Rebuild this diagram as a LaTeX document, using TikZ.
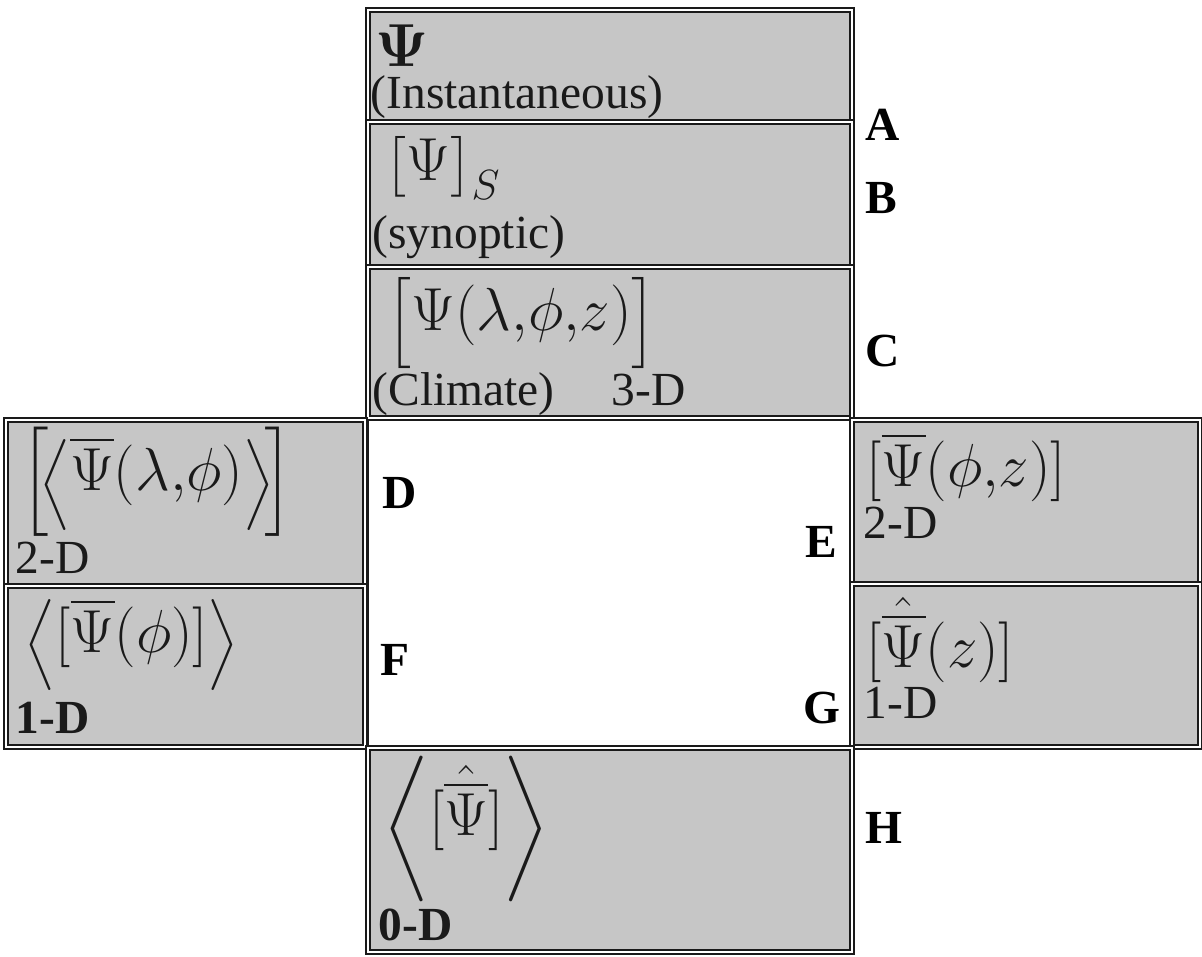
\documentclass[tikz,border=0pt]{standalone}
\usepackage{amsmath}
\usepackage{fontspec}
\setmainfont{Liberation Serif}
\usepackage{tikz}
\usetikzlibrary{fit}
\definecolor{panelgrey}{HTML}{C6C6C6}
\definecolor{ink}{HTML}{1A1A1A}
\newcommand{\sdelim}[3][0pt]{\raisebox{#1}{\fontsize{#2}{\fpeval{#2*1.18}}\selectfont$#3$}}
\tikzset{
  panel/.style={draw=ink, line width=0.45pt, double=white, double distance=0.6pt, fill=panelgrey, inner sep=0pt},
  hole/.style={draw=ink, line width=0.8pt, fill=white, inner sep=0pt},
  formula/.style={anchor=base west, inner sep=0pt, text=ink, font=\fontsize{17}{20}\selectfont},
  caption/.style={anchor=base west, inner sep=0pt, text=ink, font=\fontsize{13.5}{16}\selectfont},
  tag/.style={anchor=base west, inner sep=0pt, text=black, font=\fontsize{13.5}{16}\selectfont\bfseries},
}

\begin{document}
\begin{tikzpicture}[x=0.01cm, y=-0.01cm]
  \useasboundingbox (0,0) rectangle (1202,957);
  \node[panel, fit={(368,10) (852,122)}] (boxA) {};
  \node[panel, fit={(368,122) (852,267)}] (boxB) {};
  \node[panel, fit={(368,267) (852,418)}] (boxC) {};
  \node[panel, fit={(6,420) (365,586)}] (boxD) {};
  \node[panel, fit={(6,586) (365,747)}] (boxF) {};
  \node[hole, fit={(368,420) (850,748)}] (centre) {};
  \node[panel, fit={(852,420) (1200,584)}] (boxE) {};
  \node[panel, fit={(852,584) (1200,747)}] (boxG) {};
  \node[panel, fit={(368,748) (852,952)}] (boxH) {};

  \node[formula] (psiA) at (375,66) {$\boldsymbol{\Psi}$};
  \node[caption] (capA) at (370,108) {(Instantaneous)};
  \node[formula] (psiB) at (385,180) {$\sdelim{15.6}{\bigl[}\Psi\sdelim{15.6}{\bigr]}_{S}$};
  \node[caption] (capB) at (372,248) {(synoptic)};
  \node[formula] (psiC) at (387,330) {$\sdelim[-1.7pt]{13.7}{\Bigl[}\Psi(\lambda{,}\phi{,}z)\sdelim[-1.7pt]{13.7}{\Bigr]}$};
  \node[caption] (capC) at (372,405) {(Climate)\hspace{1.2em}3-D};
  \node[formula] (psiD) at (20,490) {$\sdelim[-2pt]{16.3}{\Bigl[}\!\sdelim[-2.2pt]{15}{\Bigl\langle}\overline{\Psi}(\lambda{,}\phi)\sdelim[-2.2pt]{15}{\Bigr\rangle}\!\sdelim[-2pt]{16.3}{\Bigr]}$};
  \node[caption] (capD) at (15,573) {2-D};
  \node[formula] (psiF) at (24,652) {$\sdelim[-1.5pt]{15}{\Bigl\langle}[\overline{\Psi}(\phi)]\sdelim[-1.5pt]{15}{\Bigr\rangle}$};
  \node[caption, font=\fontsize{13.5}{16}\selectfont\bfseries] (capF) at (15,733) {1-D};
  \node[formula] (psiE) at (866,486) {$[\overline{\Psi}(\phi{,}z)]$};
  \node[caption] (capE) at (863,538) {2-D};
  \node[formula] (psiG) at (866,667) {$[\hat{\overline{\Psi}}(z)]$};
  \node[caption] (capG) at (863,718) {1-D};
  \node[formula] (psiH) at (383,835) {$\sdelim[-2.6pt]{16.4}{\biggl\langle}[\hat{\overline{\Psi}}]\sdelim[-2.6pt]{16.4}{\biggr\rangle}$};
  \node[caption, font=\fontsize{13.5}{16}\selectfont\bfseries] (capH) at (378,940) {0-D};

  \node[tag] (tagA) at (865,140) {A};
  \node[tag] (tagB) at (865,213) {B};
  \node[tag] (tagC) at (865,366) {C};
  \node[tag] (tagD) at (382,508) {D};
  \node[tag] (tagE) at (805,557) {E};
  \node[tag] (tagF) at (380,675) {F};
  \node[tag] (tagG) at (803,723) {G};
  \node[tag] (tagH) at (865,843) {H};
\end{tikzpicture}
\end{document}
